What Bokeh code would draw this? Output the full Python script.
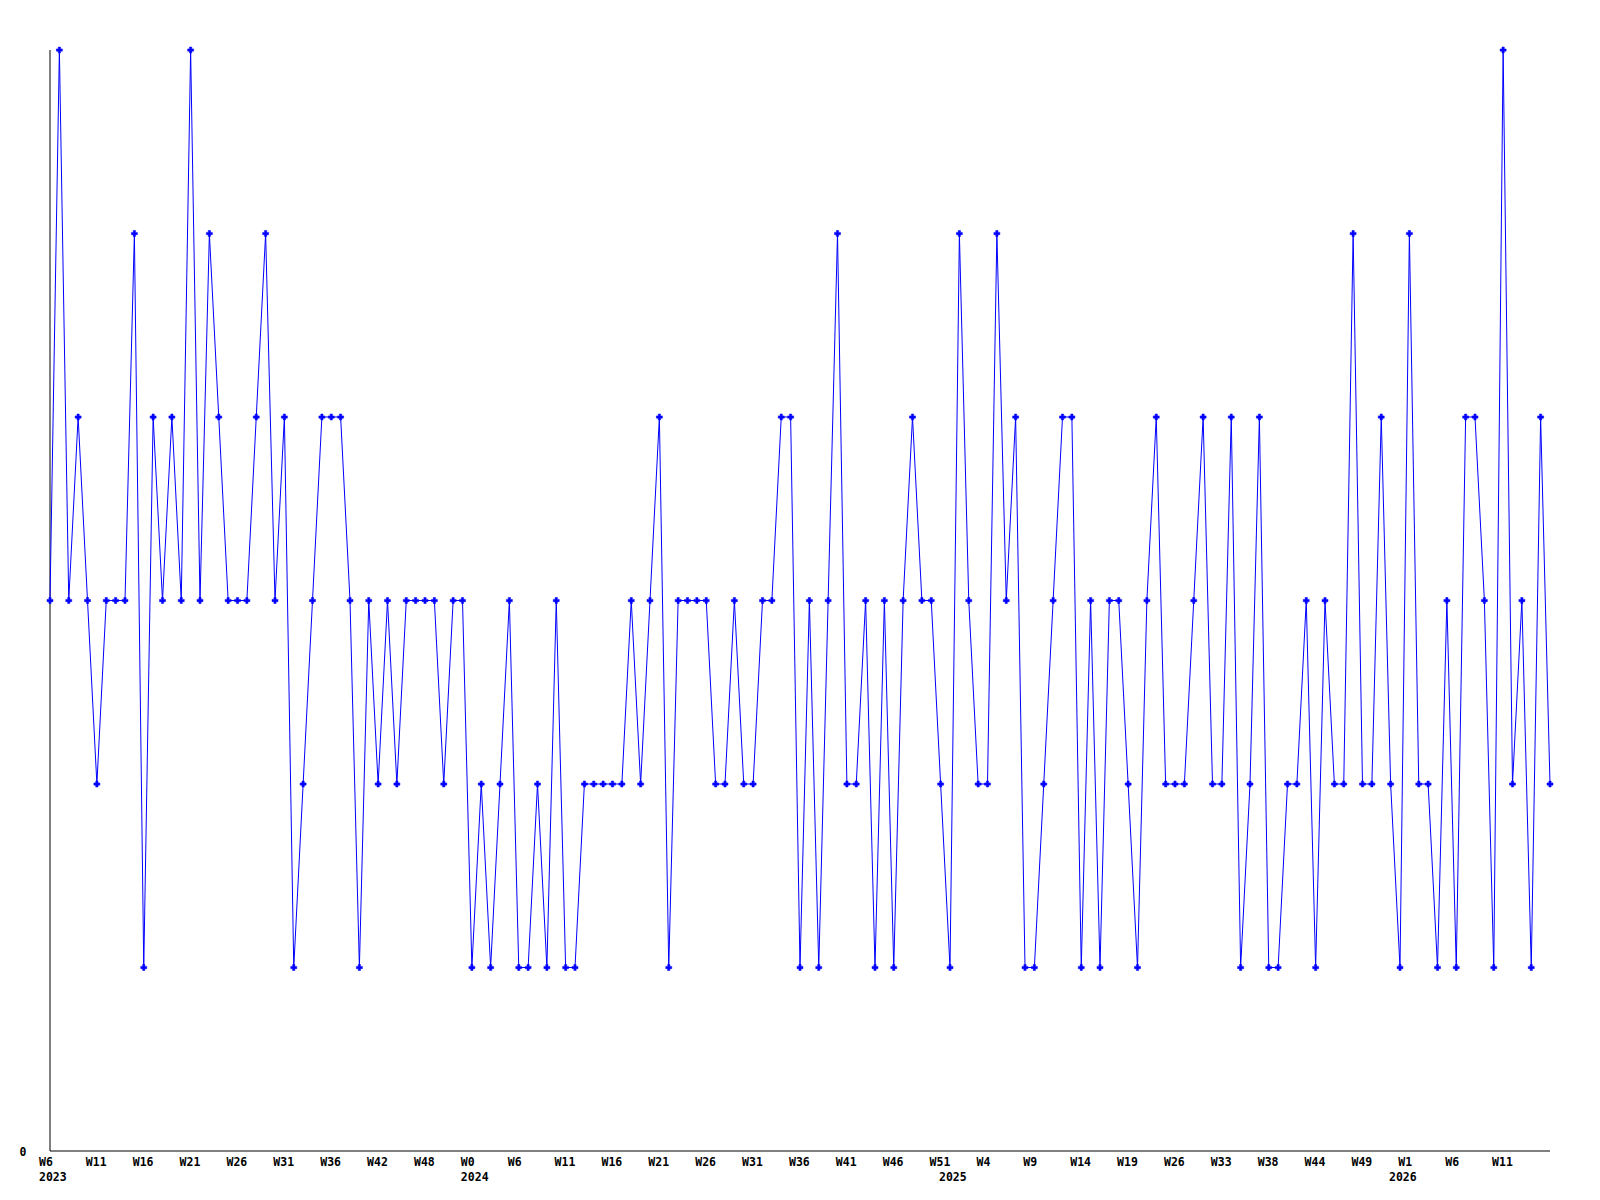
from bokeh.plotting import figure
from bokeh.models import Range1d, LinearAxis, FixedTicker
from bokeh.embed import file_html
from bokeh.resources import INLINE

# weekly values, 161 points
values = [
    3, 6, 3, 4, 3, 2, 3, 3, 3, 5, 1, 4, 3, 4, 3, 6, 3, 5, 4, 3,
    3, 3, 4, 5, 3, 4, 1, 2, 3, 4, 4, 4, 3, 1, 3, 2, 3, 2, 3, 3,
    3, 3, 2, 3, 3, 1, 2, 1, 2, 3, 1, 1, 2, 1, 3, 1, 1, 2, 2, 2,
    2, 2, 3, 2, 3, 4, 1, 3, 3, 3, 3, 2, 2, 3, 2, 2, 3, 3, 4, 4,
    1, 3, 1, 3, 5, 2, 2, 3, 1, 3, 1, 3, 4, 3, 3, 2, 1, 5, 3, 2,
    2, 5, 3, 4, 1, 1, 2, 3, 4, 4, 1, 3, 1, 3, 3, 2, 1, 3, 4, 2,
    2, 2, 3, 4, 2, 2, 4, 1, 2, 4, 1, 1, 2, 2, 3, 1, 3, 2, 2, 5,
    2, 2, 4, 2, 1, 5, 2, 2, 1, 3, 1, 4, 4, 3, 1, 6, 2, 3, 1, 4,
    2,
]
index = list(range(len(values)))

week_labels = [
    "W6", "W11", "W16", "W21", "W26", "W31", "W36", "W42", "W48",
    "W0", "W6", "W11", "W16", "W21", "W26", "W31", "W36", "W41", "W46", "W51",
    "W4", "W9", "W14", "W19", "W26", "W33", "W38", "W44", "W49",
    "W1", "W6", "W11",
]
week_label_index = [5 * i for i in range(len(week_labels))]

year_labels = ["2023", "2024", "2025", "2026"]
year_label_index = [0, 45, 96, 144]

y_max = 6

# ---- layout / style constants ----
FONT = "DejaVu Sans Mono"
FONT_PX = 11.5
CHAR_W = 0.602 * FONT_PX        # monospace advance
PX_X = 9.375                     # pixels per point
PX_Y = 183.5                     # pixels per unit
LEFT = 38
FRAME_W = 1516
TOP = 45
FRAME_H = 1107
x_start = -(49.5 - LEFT) / PX_X
y_start = -1.5 / PX_Y
LABEL_LEAD = 11.0               # labels start this many px left of their point

p = figure(
    frame_width=FRAME_W, frame_height=FRAME_H,
    min_border_left=LEFT, min_border_top=TOP, min_border_right=30, min_border_bottom=4,
    x_range=Range1d(x_start, x_start + FRAME_W / PX_X),
    y_range=Range1d(y_start, y_start + FRAME_H / PX_Y),
    x_axis_location=None, y_axis_location=None,
    output_backend="svg", toolbar_location=None,
    background_fill_color="white", border_fill_color="white",
)
p.grid.visible = False
p.outline_line_color = None

# axis lines
n_last = len(values) - 1
p.segment(x0=[0, 0], y0=[0, 0], x1=[n_last, 0], y1=[0, y_max], line_color="black", line_width=1)

p.line(index, values, line_color="#0000FF", line_width=1)
p.scatter(index, values, marker="plus", size=6, fill_color="#0000FF",
          line_color="#0000FF", line_width=0.5)


def style_axis(ax, standoff):
    ax.major_tick_line_color = None
    ax.minor_tick_line_color = None
    ax.major_tick_out = 0
    ax.major_tick_in = 0
    ax.minor_tick_out = 0
    ax.axis_line_color = None
    ax.major_label_text_font = FONT
    ax.major_label_text_font_style = "bold"
    ax.major_label_text_font_size = f"{FONT_PX}px"
    ax.major_label_text_color = "black"
    ax.major_label_standoff = standoff


def label_tick(idx, text):
    # centre of a left-aligned label that starts LABEL_LEAD px before the point
    return idx + (len(text) * CHAR_W / 2 - LABEL_LEAD) / PX_X


wticks = [label_tick(i, t) for i, t in zip(week_label_index, week_labels)]
xaxis_w = LinearAxis(ticker=FixedTicker(ticks=wticks, minor_ticks=[]),
                     major_label_overrides={t: l for t, l in zip(wticks, week_labels)})
style_axis(xaxis_w, 2)
p.add_layout(xaxis_w, "below")

yticks = [label_tick(i, t) for i, t in zip(year_label_index, year_labels)]
xaxis_y = LinearAxis(ticker=FixedTicker(ticks=yticks, minor_ticks=[]),
                     major_label_overrides={t: l for t, l in zip(yticks, year_labels)})
style_axis(xaxis_y, 0)
p.add_layout(xaxis_y, "below")

yaxis = LinearAxis(ticker=FixedTicker(ticks=[0], minor_ticks=[]),
                   major_label_overrides={0: "0"})
style_axis(yaxis, 12)
p.add_layout(yaxis, "left")

open("out.html", "w").write(file_html(p, INLINE))
